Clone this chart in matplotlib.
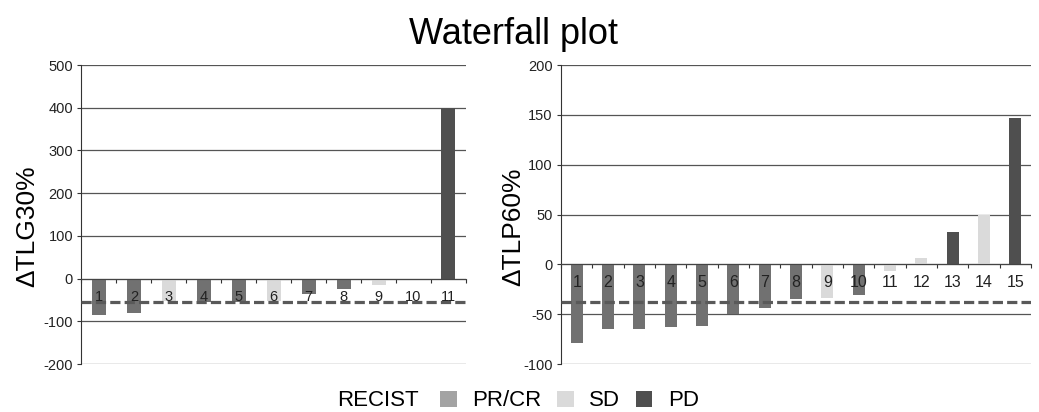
import numpy as np
import matplotlib
matplotlib.use("Agg")
import matplotlib.pyplot as plt
from matplotlib.patches import Patch

plt.rcParams['font.family'] = ['Liberation Sans', 'DejaVu Sans']
plt.rcParams['axes.unicode_minus'] = False

#%% data
tlg_patients = list(range(1, 12))
tlg_values = [-86, -81, -52, -56, -54, -52, -35, -24, -14, -3, 400]
tlg_recist = ["PR/CR", "PR/CR", "SD", "PR/CR", "PR/CR", "SD", "PR/CR", "PR/CR", "SD", "PD", "PD"]
tlg_cutoff = -54

tlp_patients = list(range(1, 16))
tlp_values = [-78.5, -64.7, -64.7, -62.7, -61.4, -50, -43.6, -35.2, -34.2, -30.9, -7, 6.5, 32, 50, 147]
tlp_recist = ["PR/CR", "PR/CR", "PR/CR", "PR/CR", "PR/CR", "PR/CR", "PR/CR", "PR/CR", "SD",
              "PR/CR", "SD", "SD", "PD", "SD", "PD"]
tlp_cutoff = -38

bar_colors = {"PR/CR": "#717171", "SD": "#dadada", "PD": "#4f4f4f"}
legend_colors = {"PR/CR": "#a3a3a3", "SD": "#dadada", "PD": "#4f4f4f"}

#%% plotting
fig = plt.figure(figsize=(10.39, 4.12), dpi=100)
ax1 = fig.add_axes([0.0784, 0.1165, 0.370, 0.7257])
ax2 = fig.add_axes([0.540, 0.1165, 0.4524, 0.7257])


def waterfall(ax, patients, values, recist, cutoff, ylim, step, width, lab_size, ylabel, lab_x):
    x = np.arange(1, len(patients) + 1)
    ax.bar(x, values, width=width, color=[bar_colors[r] for r in recist], zorder=2)
    ax.axhline(cutoff, color="#595959", lw=2.3, ls=(0, (3.2, 1.3)), zorder=4)

    ax.set_xlim(0.5, len(patients) + 0.5)
    ax.set_ylim(*ylim)
    ax.set_yticks(np.arange(ylim[0], ylim[1] + 1, step))
    ax.yaxis.grid(True, color="#555555", lw=0.9)
    ax.set_axisbelow(True)

    for s in ["top", "right"]:
        ax.spines[s].set_visible(False)
    ax.spines["left"].set_color("#333333")
    ax.spines["bottom"].set_position(("data", 0))
    ax.spines["bottom"].set_color("#444444")

    # boundary ticks on the zero line
    ax.set_xticks(np.arange(0.5, len(patients) + 1, 1))
    ax.set_xticklabels([])
    ax.tick_params(axis="x", direction="out", length=3, color="#333333")

    # patient numbers just under the zero line, drawn over the bars
    for xi, p in zip(x, patients):
        ax.annotate(str(p), xy=(xi, 0), xytext=(0, -18), textcoords="offset pixels",
                    ha="center", va="center", fontsize=lab_size, color="#222222", zorder=5)

    ax.tick_params(axis="y", length=3, color="#333333", labelsize=10.5, labelcolor="#222222", pad=3)
    ax.set_ylabel(ylabel, fontsize=19, va="center")
    ax.yaxis.set_label_coords(lab_x, 0.46)


waterfall(ax1, tlg_patients, tlg_values, tlg_recist, tlg_cutoff, (-200, 500), 100, 0.4, 10.5,
          "ΔTLG30%", -0.142)
waterfall(ax2, tlp_patients, tlp_values, tlp_recist, tlp_cutoff, (-100, 200), 50, 0.38, 11.5,
          "ΔTLP60%", -0.102)

fig.text(0.494, 1 - 35 / 412, "Waterfall plot", ha="center", va="center", fontsize=26)

# legend
fig.text(337 / 1039, 1 - 401 / 412, "RECIST", ha="left", va="center", fontsize=16)
handles = [Patch(facecolor=legend_colors[k], edgecolor="none") for k in ["PR/CR", "SD", "PD"]]
fig.legend(handles, ["PR/CR", "SD", "PD"], ncol=3, loc="center left",
           bbox_to_anchor=(440 / 1039, 1 - 401 / 412), frameon=False, fontsize=16,
           handlelength=0.75, handleheight=0.75, handletextpad=0.7, columnspacing=0.7,
           borderpad=0, borderaxespad=0)

plt.savefig("out.png", dpi=100)
